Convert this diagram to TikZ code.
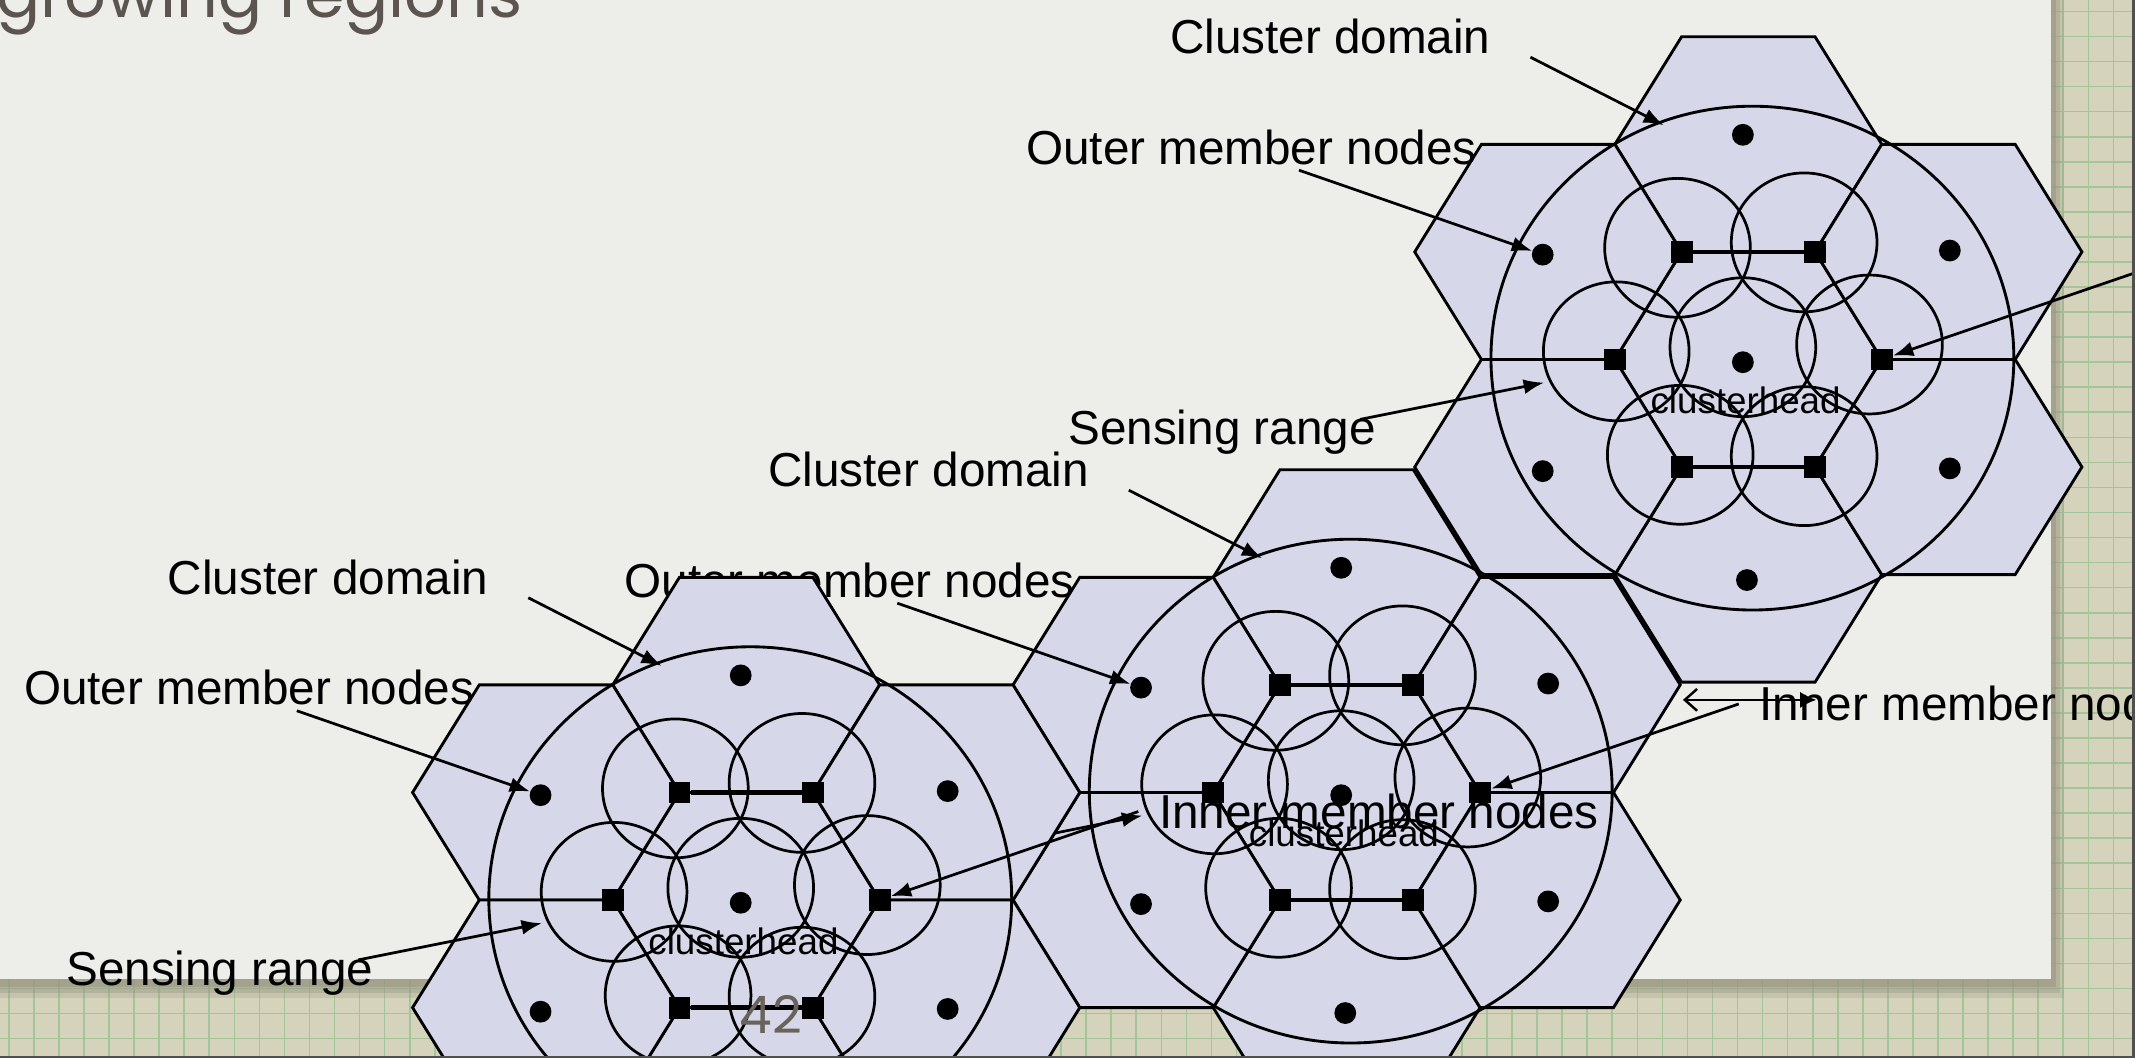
\documentclass[tikz,border=0pt]{standalone}
\usepackage{fontspec}
\setmainfont{Liberation Sans}
\newfontfamily\handfont{Poppins}
\usetikzlibrary{arrows.meta}

\definecolor{paper}{RGB}{237,238,234}
\definecolor{gridbg}{RGB}{213,211,187}
\definecolor{gridln}{RGB}{164,197,154}
\definecolor{hexfill}{RGB}{214,215,233}
\definecolor{titlegray}{RGB}{92,85,79}
\definecolor{pagegray}{RGB}{105,99,92}
\definecolor{shadowc}{RGB}{150,148,128}
\definecolor{framec}{RGB}{80,80,80}

\tikzset{
  x=1pt, y=-1pt,
  hexst/.style={fill=hexfill, draw=black, line width=2.1pt, line join=miter},
  hexcell/.pic={\path[hexst] (98,0) -- (49,-79) -- (-49,-79) -- (-98,0) -- (-49,79) -- (49,79) -- cycle;},
  domainring/.style={draw=black, line width=2.1pt},
  sensering/.style={draw=black, line width=2pt},
  sq/.style={rectangle, fill=black, minimum size=16pt, inner sep=0pt},
  dotnode/.style={circle, fill=black, minimum size=16pt, inner sep=0pt},
  coreedge/.style={line width=3.2pt},
  lbl/.style={font=\fontsize{35}{40}\selectfont, inner sep=0pt, anchor=base},
  headlbl/.style={font=\fontsize{27}{30}\selectfont, inner sep=0pt, anchor=base},
  arr/.style={line width=2pt, -{Latex[length=15pt,width=11pt]}},
  gridline/.style={draw=gridln, line width=1.2pt},
}

% One cluster: seven hexagonal cells, the cluster domain, sensing ranges,
% member nodes, clusterhead and the labels with their arrows.
\newcommand\clusterfig[3]{%
\begin{scope}[shift={(#2,#3)}]
  \foreach \hx/\hy in {0/0,0/-158,0/158,-147/-79,-147/79,147/-79,147/79}
    {\pic at (\hx,\hy) {hexcell};}
  \draw[domainring] (3,-1) ellipse [x radius=192pt, y radius=185pt];
  \foreach \ex/\ey in {-52/-82,41/-86,-97/-6,-4/-9,89/-11,-50/70,41/71}
    {\draw[sensering] (\ex,\ey) ellipse [x radius=53.5pt, y radius=51pt];}
  \node[sq] (#1-tl) at (-49,-79) {};
  \node[sq] (#1-tr) at (49,-79) {};
  \node[sq] (#1-l) at (-98,0) {};
  \node[sq] (#1-r) at (98,0) {};
  \node[sq] (#1-bl) at (-49,79) {};
  \node[sq] (#1-br) at (49,79) {};
  \draw[coreedge] (#1-tl) -- (#1-tr);
  \draw[coreedge] (#1-bl) -- (#1-br);
  \node[dotnode] (#1-head) at (-4,2) {};
  \node[dotnode] (#1-n) at (-4,-165) {};
  \node[dotnode] (#1-nw) at (-151,-77) {};
  \node[dotnode] (#1-ne) at (148,-80) {};
  \node[dotnode] (#1-sw) at (-151,82) {};
  \node[dotnode] (#1-se) at (148,80) {};
  \node[dotnode] (#1-s) at (-1,162) {};
  \node[headlbl] (#1-headlbl) at (-2,40) {clusterhead};
  \node[lbl] (#1-domlbl) at (-307,-224.5) {Cluster domain};
  \node[lbl] (#1-outlbl) at (-365,-143.5) {Outer member nodes};
  \node[lbl] (#1-senlbl) at (-386.5,62.5) {Sensing range};
  \node[lbl, anchor=base west] (#1-innlbl) at (303,-52.5) {Inner member nodes};
  \coordinate (#1-domtail) at (-160,-222);
  \coordinate (#1-domhead) at (-62,-172);
  \coordinate (#1-outtail) at (-330,-139);
  \coordinate (#1-sentail) at (-285,44);
  \coordinate (#1-senhead) at (-150,17);
  \coordinate (#1-inntail) at (288,-65);
  \draw[arr] (#1-domtail) -- (#1-domhead);
  \draw[arr] (#1-outtail) -- (#1-nw);
  \draw[arr] (#1-sentail) -- (#1-senhead);
  \draw[arr] (#1-inntail) -- (#1-r);
\end{scope}}

\begin{document}
\begin{tikzpicture}
  \useasboundingbox (0,0) rectangle (1568,777);
  \clip (0,0) rectangle (1568,777);

  % graph-paper backdrop
  \fill[gridbg] (0,0) rectangle (1568,777);
  \foreach \k in {0,...,85}
    {\draw[gridline] ({6.5+18.4*\k},0) -- ({6.5+18.4*\k},777);}
  \foreach \k in {0,...,42}
    {\draw[gridline] (0,{8.4+18.4*\k}) -- (1568,{8.4+18.4*\k});}

  % sheet with a soft drop shadow
  \fill[shadowc, opacity=0.25] (0,0) rectangle (1516,733);
  \fill[shadowc, opacity=0.35] (0,0) rectangle (1513,729);
  \fill[shadowc, opacity=0.5] (0,0) rectangle (1510,725);
  \fill[paper] (0,0) rectangle (1506,719);

  % heading
  \node[font=\handfont\fontsize{48}{52}\selectfont, text=titlegray, anchor=base west, inner sep=0pt] (title) at (-3,13) {growing regions};

  % three clusters, the lower ones drawn over the upper ones
  \clusterfig{C}{1284}{264}
  \clusterfig{B}{989}{582}

  % side-length marker
  \coordinate (dimL) at (1236,514);
  \coordinate (dimR) at (1334,514);
  \draw[line width=1.8pt, {Straight Barb[length=9pt,width=16pt]}-{Latex[length=12pt,width=12pt]}] (dimL) -- (dimR);

  \clusterfig{A}{548}{661}

  % page number
  \node[font=\handfont\fontsize{38}{40}\selectfont, text=pagegray, inner sep=0pt] (pageno) at (566,745) {42};

  % screen frame
  \draw[framec, line width=2pt] (0,776.5) -- (1567,776.5) -- (1567,0);
\end{tikzpicture}
\end{document}
